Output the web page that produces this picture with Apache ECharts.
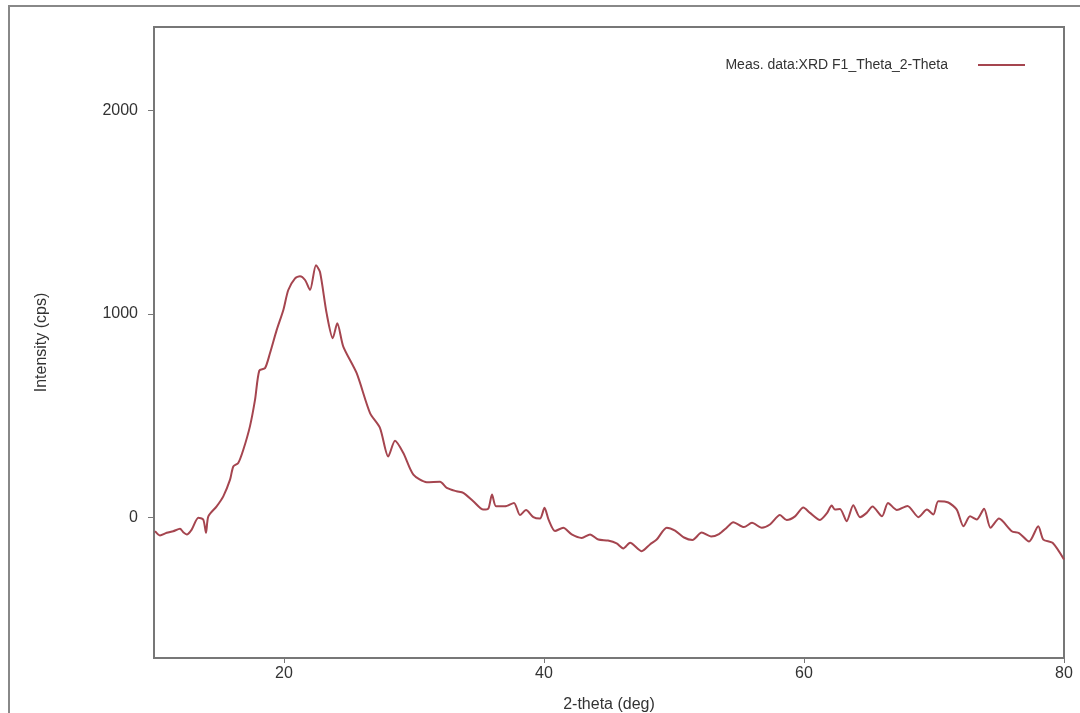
<!DOCTYPE html>
<html>
<head>
<meta charset="utf-8">
<title>XRD F1 Theta 2-Theta</title>
<script src="https://cdn.jsdelivr.net/npm/echarts@6/dist/echarts.min.js"></script>
<style>
  html, body { margin: 0; padding: 0; background: #fff; }
  #container { width: 1080px; height: 713px; }
</style>
</head>
<body>
<div id="container"></div>
<script>
// 2-theta (deg)
var twoTheta = [10.08, 10.46, 10.98, 11.48, 12.0, 12.25, 12.52, 12.9, 13.41, 13.79,
  14.0, 14.18, 14.82, 15.33, 15.85, 16.1, 16.48, 16.87, 17.38, 17.77,
  18.1, 18.54, 18.92, 19.44, 19.95, 20.33, 20.85, 21.23, 21.62, 22.0,
  22.46, 22.77, 23.28, 23.75, 24.1, 24.56, 25.59, 26.62, 27.38, 28.02,
  28.54, 29.18, 29.95, 30.98, 32.0, 32.52, 33.28, 33.79, 34.56, 35.33,
  35.72, 36.0, 36.31, 37.0, 37.69, 38.15, 38.62, 39.18, 39.69, 40.04,
  40.35, 40.85, 41.48, 42.13, 42.9, 43.54, 44.18, 44.92, 45.59, 46.1,
  46.62, 47.52, 48.15, 48.67, 49.44, 50.08, 50.77, 51.42, 52.13, 52.85,
  53.46, 54.05, 54.56, 55.38, 56.0, 56.75, 57.38, 58.15, 58.67, 59.31,
  59.95, 60.46, 61.23, 61.75, 62.13, 62.38, 62.77, 63.28, 63.79, 64.31,
  64.82, 65.27, 66.0, 66.46, 67.15, 67.96, 68.81, 69.46, 69.95, 70.33,
  71.1, 71.75, 72.27, 72.77, 73.28, 73.85, 74.35, 75.0, 75.98, 76.54,
  77.31, 78.02, 78.41, 79.12, 80.0];

// intensity (cps)
var intensity = [-67, -88, -75, -67, -55, -72, -83, -59, -1, -10,
  -75, 6, 55, 104, 186, 251, 268, 333, 448, 578,
  722, 734, 807, 922, 1020, 1118, 1175, 1186, 1167, 1118,
  1240, 1206, 1003, 881, 954, 840, 709, 513, 441, 300,
  377, 317, 211, 174, 176, 146, 129, 121, 80, 39,
  44, 113, 55, 55, 72, 12, 37, 2, -5, 48,
  -10, -66, -50, -83, -100, -83, -108, -113, -127, -152,
  -124, -165, -132, -108, -50, -64, -98, -110, -74, -93,
  -81, -50, -23, -47, -26, -50, -34, 12, -12, 6,
  49, 23, -12, 20, 59, 39, 42, -18, 61, 2,
  23, 54, 6, 72, 37, 57, 2, 39, 15, 80,
  74, 39, -43, 6, -10, 43, -50, -5, -67, -76,
  -118, -43, -108, -124, -206];

var yTicks = [0, 1000, 2000];
var xTicks = [20, 40, 60, 80];

var points = [];
for (var i = 0; i < twoTheta.length; i++) {
  points.push([twoTheta[i], intensity[i]]);
}

var myChart = echarts.init(document.getElementById('container'));
var axisColor = '#777';
var option = {
  animation: false,
  backgroundColor: '#fff',
  textStyle: { fontFamily: 'Liberation Sans, Arial, sans-serif' },
  graphic: [{
    type: 'rect',
    shape: { x: 9, y: 6, width: 1200, height: 800 },
    style: { fill: 'none', stroke: '#888', lineWidth: 2 },
    silent: true
  }],
  grid: {
    left: 154, right: 16, top: 27, bottom: 55,
    show: true, borderColor: axisColor, borderWidth: 2,
    containLabel: false,
    outerBoundsMode: 'none'
  },
  legend: {
    right: 50, top: 53,
    align: 'right',
    itemWidth: 47, itemHeight: 2,
    icon: 'rect',
    textStyle: { fontSize: 14, color: '#333', padding: [0, 25, 0, 0] },
    data: ['Meas. data:XRD F1_Theta_2-Theta']
  },
  xAxis: {
    type: 'value',
    min: 10, max: 80,
    name: '2-theta (deg)',
    nameLocation: 'middle',
    nameGap: 39,
    nameTextStyle: { fontSize: 16, color: '#333' },
    axisLine: { show: true, onZero: false, lineStyle: { color: axisColor, width: 2 } },
    axisTick: { show: true, length: 5, customValues: xTicks, lineStyle: { color: axisColor } },
    axisLabel: {
      customValues: xTicks, fontSize: 16, color: '#333', margin: 8,
      formatter: function (v) { return String(v); }
    },
    splitLine: { show: false }
  },
  yAxis: {
    type: 'value',
    min: -690, max: 2410,
    name: 'Intensity (cps)',
    nameLocation: 'middle',
    nameGap: 104,
    nameTextStyle: { fontSize: 16, color: '#333' },
    axisLine: { show: true, onZero: false, lineStyle: { color: axisColor, width: 2 } },
    axisTick: { show: true, length: 6, customValues: yTicks, lineStyle: { color: axisColor } },
    axisLabel: {
      customValues: yTicks, fontSize: 16, color: '#333', margin: 16,
      formatter: function (v) { return String(v); }
    },
    splitLine: { show: false }
  },
  series: [{
    name: 'Meas. data:XRD F1_Theta_2-Theta',
    type: 'line',
    data: points,
    showSymbol: false,
    smooth: 0.25,
    lineStyle: { color: '#a5454f', width: 2 },
    itemStyle: { color: '#a5454f' }
  }]
};
myChart.setOption(option);
</script>
</body>
</html>
